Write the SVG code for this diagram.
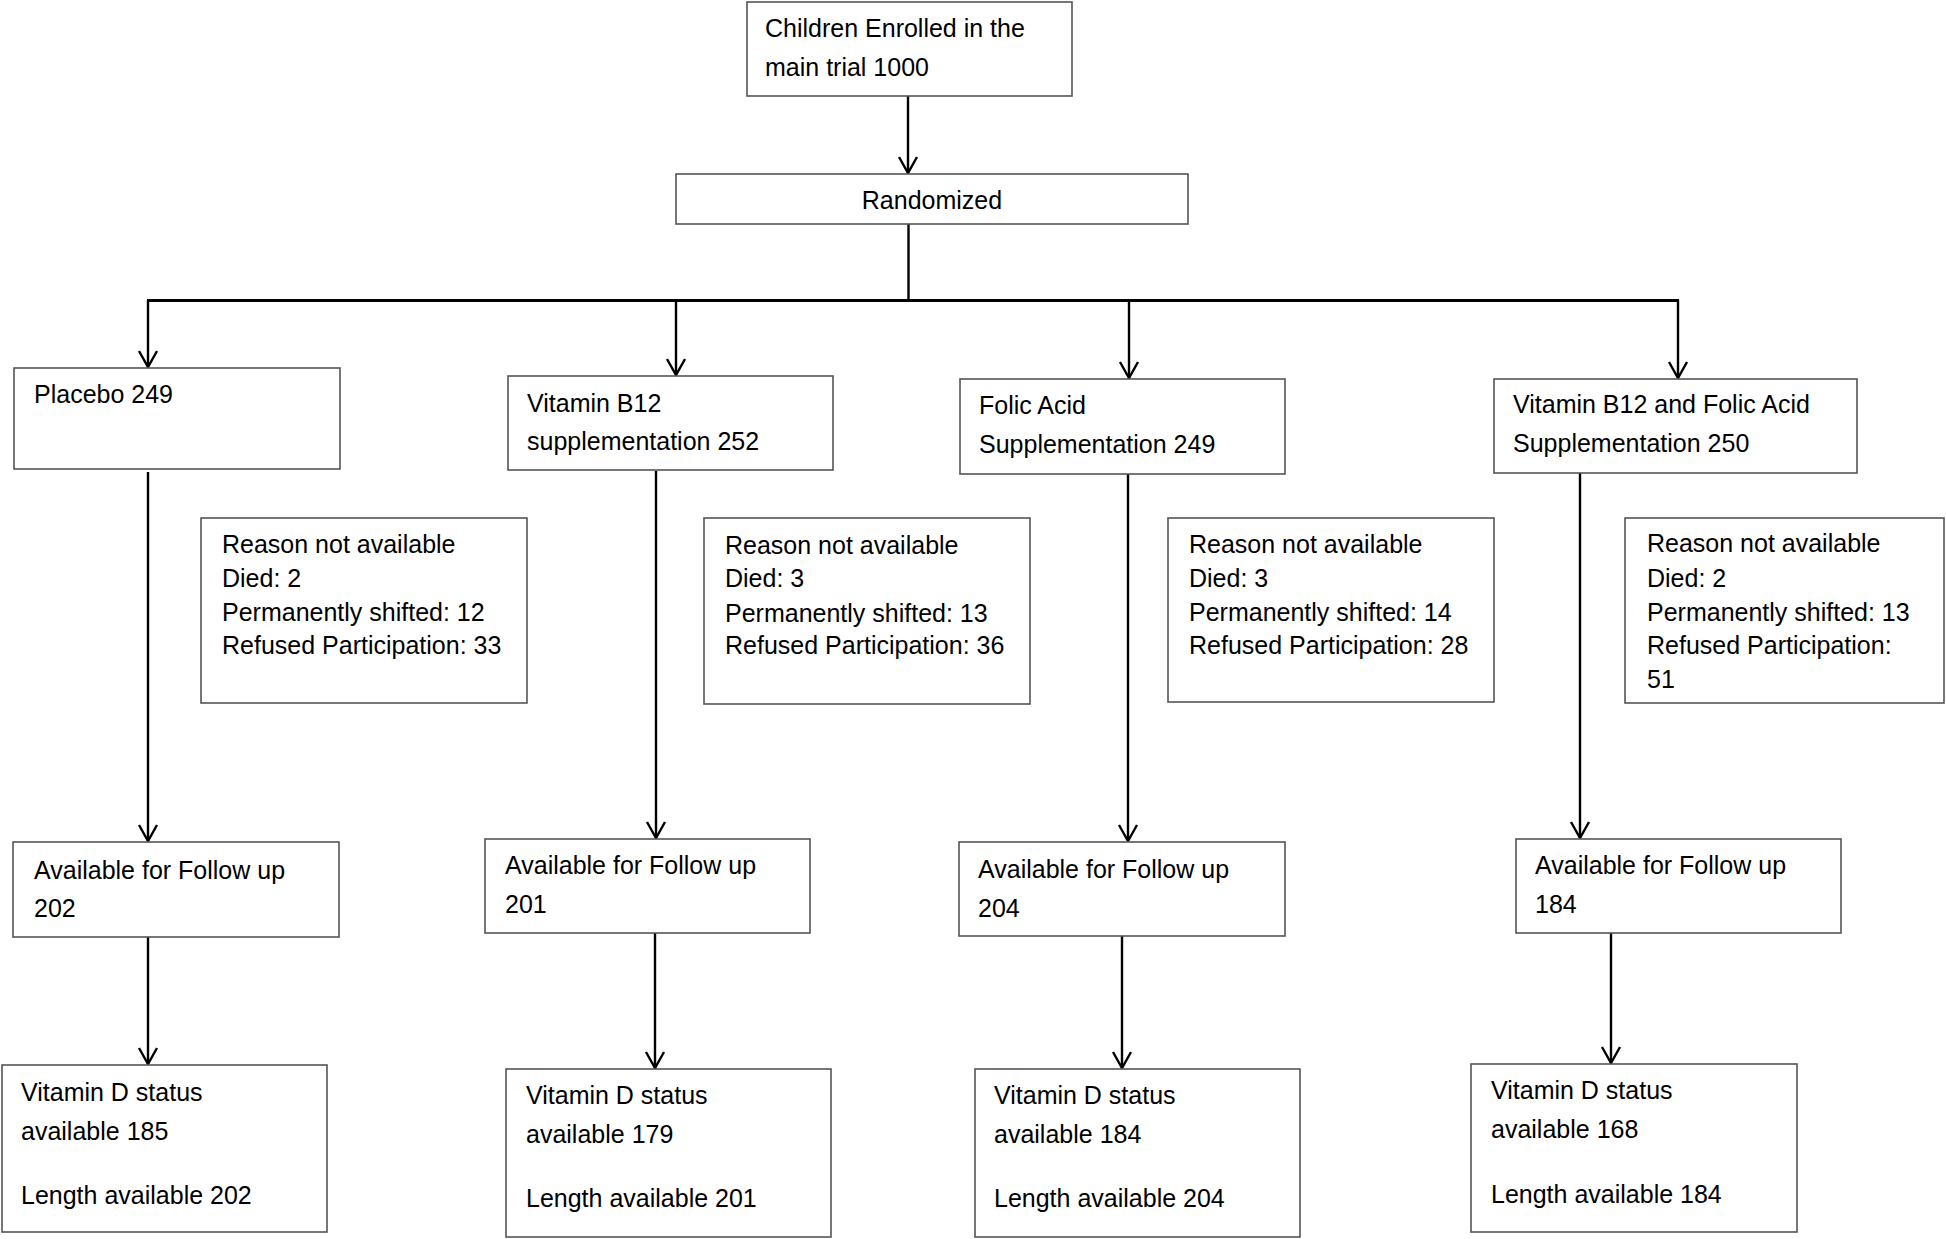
<svg xmlns="http://www.w3.org/2000/svg" width="1946" height="1239" viewBox="0 0 1946 1239">
<style>
.box{fill:#fff;stroke:#555;stroke-width:1.6}
.t{font-family:"Liberation Sans",Arial,sans-serif;font-size:25px;fill:#000}
.c{fill:none;stroke:#000;stroke-width:2.4}
.h{fill:none;stroke:#000;stroke-width:3.2}
</style>
<defs>
<marker id="arr" markerUnits="userSpaceOnUse" markerWidth="20" markerHeight="20" refX="0" refY="0" orient="auto" overflow="visible">
<path d="M-16,-9 L0,0 L-16,9" fill="none" stroke="#000" stroke-width="2.4"/>
</marker>
</defs>
<rect width="1946" height="1239" fill="#fff"/>
<g id="connectors">
<line class="c" x1="908" y1="96" x2="908" y2="173" marker-end="url(#arr)"/>
<line class="c" x1="908.5" y1="224" x2="908.5" y2="301"/>
<line class="h" x1="147" y1="300.5" x2="1679" y2="300.5"/>
<line class="c" x1="148" y1="300" x2="148" y2="367" marker-end="url(#arr)"/>
<line class="c" x1="676" y1="300" x2="676" y2="375" marker-end="url(#arr)"/>
<line class="c" x1="1129" y1="300" x2="1129" y2="378" marker-end="url(#arr)"/>
<line class="c" x1="1678" y1="300" x2="1678" y2="378" marker-end="url(#arr)"/>
<line class="c" x1="148" y1="472" x2="148" y2="841" marker-end="url(#arr)"/>
<line class="c" x1="656" y1="471" x2="656" y2="838" marker-end="url(#arr)"/>
<line class="c" x1="1128" y1="471" x2="1128" y2="841" marker-end="url(#arr)"/>
<line class="c" x1="1580" y1="473" x2="1580" y2="838" marker-end="url(#arr)"/>
<line class="c" x1="148" y1="935" x2="148" y2="1064" marker-end="url(#arr)"/>
<line class="c" x1="655" y1="933" x2="655" y2="1068" marker-end="url(#arr)"/>
<line class="c" x1="1122" y1="936" x2="1122" y2="1068" marker-end="url(#arr)"/>
<line class="c" x1="1611" y1="933" x2="1611" y2="1063" marker-end="url(#arr)"/>
</g>
<g id="enrolled">
<rect class="box" x="747" y="2" width="325" height="94"/>
<text class="t" x="765" y="37">Children Enrolled in the</text>
<text class="t" x="765" y="76">main trial 1000</text>
</g>
<g id="randomized">
<rect class="box" x="676" y="174" width="512" height="50"/>
<text class="t" x="932" y="209" text-anchor="middle">Randomized</text>
</g>
<g id="placebo">
<rect class="box" x="14" y="368" width="326" height="101"/>
<text class="t" x="34" y="403">Placebo 249</text>
</g>
<g id="b12">
<rect class="box" x="508" y="376" width="325" height="94"/>
<text class="t" x="527" y="412">Vitamin B12</text>
<text class="t" x="527" y="450">supplementation 252</text>
</g>
<g id="folic">
<rect class="box" x="960" y="379" width="325" height="95"/>
<text class="t" x="979" y="414">Folic Acid</text>
<text class="t" x="979" y="453">Supplementation 249</text>
</g>
<g id="both">
<rect class="box" x="1494" y="379" width="363" height="94"/>
<text class="t" x="1513" y="413">Vitamin B12 and Folic Acid</text>
<text class="t" x="1513" y="452">Supplementation 250</text>
</g>
<g id="reason-placebo">
<rect class="box" x="201" y="518" width="326" height="185"/>
<text class="t" x="222" y="553">Reason not available</text>
<text class="t" x="222" y="587">Died: 2</text>
<text class="t" x="222" y="621">Permanently shifted: 12</text>
<text class="t" x="222" y="654">Refused Participation: 33</text>
</g>
<g id="reason-b12">
<rect class="box" x="704" y="518" width="326" height="186"/>
<text class="t" x="725" y="554">Reason not available</text>
<text class="t" x="725" y="587">Died: 3</text>
<text class="t" x="725" y="622">Permanently shifted: 13</text>
<text class="t" x="725" y="654">Refused Participation: 36</text>
</g>
<g id="reason-folic">
<rect class="box" x="1168" y="518" width="326" height="184"/>
<text class="t" x="1189" y="553">Reason not available</text>
<text class="t" x="1189" y="587">Died: 3</text>
<text class="t" x="1189" y="621">Permanently shifted: 14</text>
<text class="t" x="1189" y="654">Refused Participation: 28</text>
</g>
<g id="reason-both">
<rect class="box" x="1625" y="518" width="319" height="185"/>
<text class="t" x="1647" y="552">Reason not available</text>
<text class="t" x="1647" y="587">Died: 2</text>
<text class="t" x="1647" y="621">Permanently shifted: 13</text>
<text class="t" x="1647" y="654">Refused Participation:</text>
<text class="t" x="1647" y="688">51</text>
</g>
<g id="followup-placebo">
<rect class="box" x="13" y="842" width="326" height="95"/>
<text class="t" x="34" y="879">Available for Follow up</text>
<text class="t" x="34" y="917">202</text>
</g>
<g id="followup-b12">
<rect class="box" x="485" y="839" width="325" height="94"/>
<text class="t" x="505" y="874">Available for Follow up</text>
<text class="t" x="505" y="913">201</text>
</g>
<g id="followup-folic">
<rect class="box" x="959" y="842" width="326" height="94"/>
<text class="t" x="978" y="878">Available for Follow up</text>
<text class="t" x="978" y="917">204</text>
</g>
<g id="followup-both">
<rect class="box" x="1516" y="839" width="325" height="94"/>
<text class="t" x="1535" y="874">Available for Follow up</text>
<text class="t" x="1535" y="913">184</text>
</g>
<g id="vitd-placebo">
<rect class="box" x="2" y="1065" width="325" height="167"/>
<text class="t" x="21" y="1101">Vitamin D status</text>
<text class="t" x="21" y="1140">available 185</text>
<text class="t" x="21" y="1204">Length available 202</text>
</g>
<g id="vitd-b12">
<rect class="box" x="506" y="1069" width="325" height="168"/>
<text class="t" x="526" y="1104">Vitamin D status</text>
<text class="t" x="526" y="1143">available 179</text>
<text class="t" x="526" y="1207">Length available 201</text>
</g>
<g id="vitd-folic">
<rect class="box" x="975" y="1069" width="325" height="168"/>
<text class="t" x="994" y="1104">Vitamin D status</text>
<text class="t" x="994" y="1143">available 184</text>
<text class="t" x="994" y="1207">Length available 204</text>
</g>
<g id="vitd-both">
<rect class="box" x="1471" y="1064" width="326" height="168"/>
<text class="t" x="1491" y="1099">Vitamin D status</text>
<text class="t" x="1491" y="1138">available 168</text>
<text class="t" x="1491" y="1203">Length available 184</text>
</g>
</svg>
